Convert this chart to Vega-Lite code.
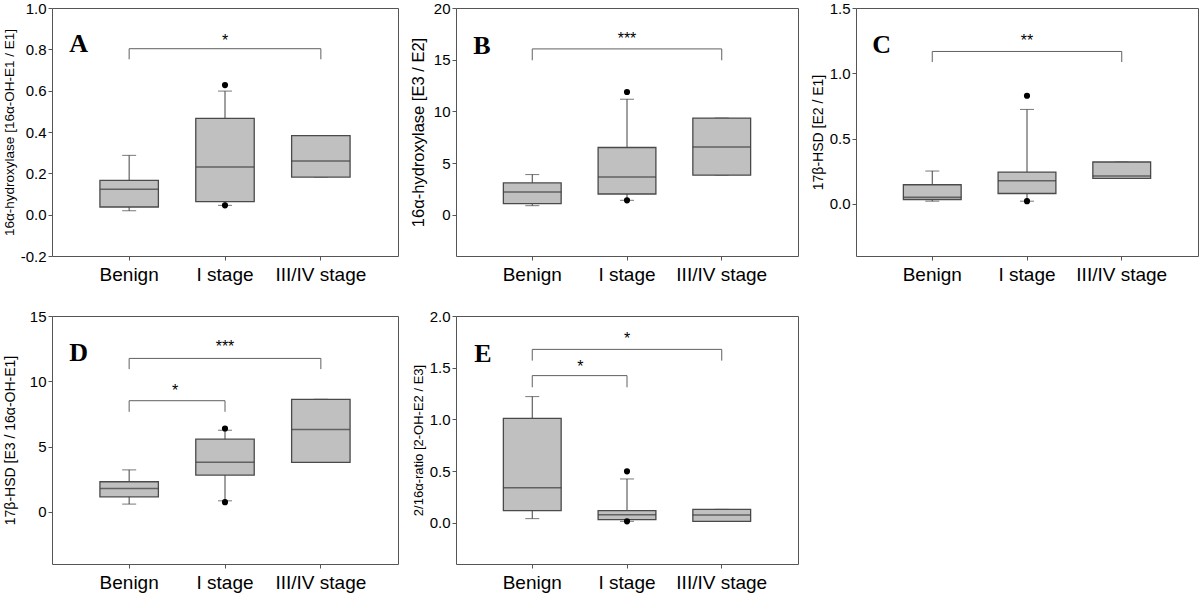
{
  "$schema": "https://vega.github.io/schema/vega-lite/v6.json",
  "background": "white",
  "padding": {"left": 1, "top": 0, "right": 0, "bottom": 0},
  "datasets": {
    "boxes": [
      {"panel": "A", "group": "Benign", "lo": 0.019, "q1": 0.037, "med": 0.123, "q3": 0.166, "hi": 0.287},
      {"panel": "A", "group": "I stage", "lo": 0.045, "q1": 0.063, "med": 0.231, "q3": 0.466, "hi": 0.598},
      {"panel": "A", "group": "III/IV stage", "lo": 0.182, "q1": 0.182, "med": 0.26, "q3": 0.382, "hi": 0.382},
      {"panel": "B", "group": "Benign", "lo": 0.87, "q1": 1.07, "med": 2.19, "q3": 3.07, "hi": 3.88},
      {"panel": "B", "group": "I stage", "lo": 1.39, "q1": 2.0, "med": 3.65, "q3": 6.5, "hi": 11.17},
      {"panel": "B", "group": "III/IV stage", "lo": 3.82, "q1": 3.82, "med": 6.56, "q3": 9.35, "hi": 9.35},
      {"panel": "C", "group": "Benign", "lo": 0.02, "q1": 0.033, "med": 0.051, "q3": 0.146, "hi": 0.251},
      {"panel": "C", "group": "I stage", "lo": 0.02, "q1": 0.079, "med": 0.177, "q3": 0.243, "hi": 0.723},
      {"panel": "C", "group": "III/IV stage", "lo": 0.195, "q1": 0.195, "med": 0.212, "q3": 0.32, "hi": 0.32},
      {"panel": "D", "group": "Benign", "lo": 0.59, "q1": 1.15, "med": 1.79, "q3": 2.3, "hi": 3.21},
      {"panel": "D", "group": "I stage", "lo": 0.84, "q1": 2.81, "med": 3.8, "q3": 5.56, "hi": 6.25},
      {"panel": "D", "group": "III/IV stage", "lo": 3.78, "q1": 3.78, "med": 6.3, "q3": 8.62, "hi": 8.62},
      {"panel": "E", "group": "Benign", "lo": 0.039, "q1": 0.116, "med": 0.339, "q3": 1.01, "hi": 1.22},
      {"panel": "E", "group": "I stage", "lo": 0.013, "q1": 0.029, "med": 0.077, "q3": 0.116, "hi": 0.423},
      {"panel": "E", "group": "III/IV stage", "lo": 0.013, "q1": 0.013, "med": 0.074, "q3": 0.129, "hi": 0.129}
    ],
    "outliers": [
      {"panel": "A", "group": "I stage", "value": 0.627},
      {"panel": "A", "group": "I stage", "value": 0.045},
      {"panel": "B", "group": "I stage", "value": 11.87},
      {"panel": "B", "group": "I stage", "value": 1.39},
      {"panel": "C", "group": "I stage", "value": 0.828},
      {"panel": "C", "group": "I stage", "value": 0.02},
      {"panel": "D", "group": "I stage", "value": 6.38},
      {"panel": "D", "group": "I stage", "value": 0.74},
      {"panel": "E", "group": "I stage", "value": 0.497},
      {"panel": "E", "group": "I stage", "value": 0.013}
    ],
    "brackets": [
      {"panel": "A", "from": "Benign", "to": "III/IV stage", "y": 0.803, "leg": 0.752},
      {"panel": "B", "from": "Benign", "to": "III/IV stage", "y": 16.04, "leg": 14.94},
      {"panel": "C", "from": "Benign", "to": "III/IV stage", "y": 1.167, "leg": 1.086},
      {"panel": "D", "from": "Benign", "to": "III/IV stage", "y": 11.75, "leg": 10.93},
      {"panel": "D", "from": "Benign", "to": "I stage", "y": 8.51, "leg": 7.66},
      {"panel": "E", "from": "Benign", "to": "III/IV stage", "y": 1.677, "leg": 1.568},
      {"panel": "E", "from": "Benign", "to": "I stage", "y": 1.423, "leg": 1.31}
    ],
    "stars": [
      {"panel": "A", "at": "I stage", "pos": "center", "y": 0.859, "label": "*"},
      {"panel": "B", "at": "I stage", "pos": "center", "y": 17.36, "label": "***"},
      {"panel": "C", "at": "I stage", "pos": "center", "y": 1.277, "label": "**"},
      {"panel": "D", "at": "I stage", "pos": "center", "y": 12.9, "label": "***"},
      {"panel": "D", "at": "Benign", "pos": "mid", "y": 9.53, "label": "*"},
      {"panel": "E", "at": "I stage", "pos": "center", "y": 1.817, "label": "*"},
      {"panel": "E", "at": "Benign", "pos": "mid", "y": 1.542, "label": "*"}
    ],
    "letters": [
      {"panel": "A", "at": "Benign", "y": 0.826, "letter": "A"},
      {"panel": "B", "at": "Benign", "y": 16.3, "letter": "B"},
      {"panel": "C", "at": "Benign", "y": 1.217, "letter": "C"},
      {"panel": "D", "at": "Benign", "y": 12.15, "letter": "D"},
      {"panel": "E", "at": "Benign", "y": 1.635, "letter": "E"}
    ]
  },
  "bounds": "flush",
  "spacing": {"row": 60, "column": 58},
  "columns": 3,
  "concat": [
    {
      "width": 346, "height": 248,
      "layer": [
        {"data": {"name": "boxes"}, "transform": [{"filter": "datum.panel === 'A'"}],
         "mark": {"type": "rule", "color": "#404040", "strokeWidth": 1},
         "encoding": {
           "x": {"field": "group", "type": "nominal", "scale": {"type": "band", "paddingInner": 0.39, "paddingOuter": 0.5}, "axis": {"title": null}},
           "y": {"field": "lo", "type": "quantitative", "scale": {"domain": [-0.2, 1.0], "nice": false, "zero": false}, "axis": {"title": "16α-hydroxylase [16α-OH-E1 / E1]", "titleFontSize": 13.5, "titleX": -43, "values": [-0.2, 0, 0.2, 0.4, 0.6, 0.8, 1.0], "labelExpr": "replace(format(datum.value, '.1f'), '−', '-')"}},
           "y2": {"field": "hi"}}},
        {"data": {"name": "boxes"}, "transform": [{"filter": "datum.panel === 'A'"}],
         "mark": {"type": "tick", "color": "#404040", "size": 14, "thickness": 1},
         "encoding": {"x": {"field": "group", "type": "nominal"}, "y": {"field": "lo", "type": "quantitative"}}},
        {"data": {"name": "boxes"}, "transform": [{"filter": "datum.panel === 'A'"}],
         "mark": {"type": "tick", "color": "#404040", "size": 14, "thickness": 1},
         "encoding": {"x": {"field": "group", "type": "nominal"}, "y": {"field": "hi", "type": "quantitative"}}},
        {"data": {"name": "boxes"}, "transform": [{"filter": "datum.panel === 'A'"}],
         "mark": {"type": "bar", "fill": "#c0c0c0", "stroke": "#4a4a4a", "strokeWidth": 1.3},
         "encoding": {"x": {"field": "group", "type": "nominal"}, "y": {"field": "q1", "type": "quantitative"}, "y2": {"field": "q3"}}},
        {"data": {"name": "boxes"}, "transform": [{"filter": "datum.panel === 'A'"}],
         "mark": {"type": "tick", "color": "#3a3a3a", "size": 58, "thickness": 1.5},
         "encoding": {"x": {"field": "group", "type": "nominal"}, "y": {"field": "med", "type": "quantitative"}}},
        {"data": {"name": "outliers"}, "transform": [{"filter": "datum.panel === 'A'"}],
         "mark": {"type": "point", "filled": true, "color": "black", "size": 38, "opacity": 1},
         "encoding": {"x": {"field": "group", "type": "nominal"}, "y": {"field": "value", "type": "quantitative"}}},
        {"data": {"name": "brackets"}, "transform": [{"filter": "datum.panel === 'A'"}],
         "mark": {"type": "rule", "color": "#606060", "strokeWidth": 1},
         "encoding": {"x": {"field": "from", "type": "nominal"}, "x2": {"field": "to"}, "y": {"field": "y", "type": "quantitative"}}},
        {"data": {"name": "brackets"}, "transform": [{"filter": "datum.panel === 'A'"}],
         "mark": {"type": "rule", "color": "#606060", "strokeWidth": 1},
         "encoding": {"x": {"field": "from", "type": "nominal"}, "y": {"field": "y", "type": "quantitative"}, "y2": {"field": "leg"}}},
        {"data": {"name": "brackets"}, "transform": [{"filter": "datum.panel === 'A'"}],
         "mark": {"type": "rule", "color": "#606060", "strokeWidth": 1},
         "encoding": {"x": {"field": "to", "type": "nominal"}, "y": {"field": "y", "type": "quantitative"}, "y2": {"field": "leg"}}},
        {"data": {"name": "stars"}, "transform": [{"filter": "datum.panel === 'A' && datum.pos === 'center'"}],
         "mark": {"type": "text", "fontSize": 16, "color": "black", "font": "Liberation Sans", "dy": 4},
         "encoding": {"x": {"field": "at", "type": "nominal"}, "y": {"field": "y", "type": "quantitative"}, "text": {"field": "label"}}},
        {"data": {"name": "letters"}, "transform": [{"filter": "datum.panel === 'A'"}],
         "mark": {"type": "text", "fontSize": 26, "fontWeight": "bold", "font": "Liberation Serif", "color": "black", "align": "left", "baseline": "middle", "dx": -60},
         "encoding": {"x": {"field": "at", "type": "nominal"}, "y": {"field": "y", "type": "quantitative"}, "text": {"field": "letter"}}}
      ]
    },
    {
      "width": 342, "height": 248,
      "layer": [
        {"data": {"name": "boxes"}, "transform": [{"filter": "datum.panel === 'B'"}],
         "mark": {"type": "rule", "color": "#404040", "strokeWidth": 1},
         "encoding": {
           "x": {"field": "group", "type": "nominal", "scale": {"type": "band", "paddingInner": 0.39, "paddingOuter": 0.5}, "axis": {"title": null}},
           "y": {"field": "lo", "type": "quantitative", "scale": {"domain": [-4, 20], "nice": false, "zero": false}, "axis": {"title": "16α-hydroxylase [E3 / E2]", "titleFontSize": 16.5, "titleX": -37.5, "values": [0, 5, 10, 15, 20], "format": "d"}},
           "y2": {"field": "hi"}}},
        {"data": {"name": "boxes"}, "transform": [{"filter": "datum.panel === 'B'"}],
         "mark": {"type": "tick", "color": "#404040", "size": 14, "thickness": 1},
         "encoding": {"x": {"field": "group", "type": "nominal"}, "y": {"field": "lo", "type": "quantitative"}}},
        {"data": {"name": "boxes"}, "transform": [{"filter": "datum.panel === 'B'"}],
         "mark": {"type": "tick", "color": "#404040", "size": 14, "thickness": 1},
         "encoding": {"x": {"field": "group", "type": "nominal"}, "y": {"field": "hi", "type": "quantitative"}}},
        {"data": {"name": "boxes"}, "transform": [{"filter": "datum.panel === 'B'"}],
         "mark": {"type": "bar", "fill": "#c0c0c0", "stroke": "#4a4a4a", "strokeWidth": 1.3},
         "encoding": {"x": {"field": "group", "type": "nominal"}, "y": {"field": "q1", "type": "quantitative"}, "y2": {"field": "q3"}}},
        {"data": {"name": "boxes"}, "transform": [{"filter": "datum.panel === 'B'"}],
         "mark": {"type": "tick", "color": "#3a3a3a", "size": 58, "thickness": 1.5},
         "encoding": {"x": {"field": "group", "type": "nominal"}, "y": {"field": "med", "type": "quantitative"}}},
        {"data": {"name": "outliers"}, "transform": [{"filter": "datum.panel === 'B'"}],
         "mark": {"type": "point", "filled": true, "color": "black", "size": 38, "opacity": 1},
         "encoding": {"x": {"field": "group", "type": "nominal"}, "y": {"field": "value", "type": "quantitative"}}},
        {"data": {"name": "brackets"}, "transform": [{"filter": "datum.panel === 'B'"}],
         "mark": {"type": "rule", "color": "#606060", "strokeWidth": 1},
         "encoding": {"x": {"field": "from", "type": "nominal"}, "x2": {"field": "to"}, "y": {"field": "y", "type": "quantitative"}}},
        {"data": {"name": "brackets"}, "transform": [{"filter": "datum.panel === 'B'"}],
         "mark": {"type": "rule", "color": "#606060", "strokeWidth": 1},
         "encoding": {"x": {"field": "from", "type": "nominal"}, "y": {"field": "y", "type": "quantitative"}, "y2": {"field": "leg"}}},
        {"data": {"name": "brackets"}, "transform": [{"filter": "datum.panel === 'B'"}],
         "mark": {"type": "rule", "color": "#606060", "strokeWidth": 1},
         "encoding": {"x": {"field": "to", "type": "nominal"}, "y": {"field": "y", "type": "quantitative"}, "y2": {"field": "leg"}}},
        {"data": {"name": "stars"}, "transform": [{"filter": "datum.panel === 'B' && datum.pos === 'center'"}],
         "mark": {"type": "text", "fontSize": 16, "color": "black", "font": "Liberation Sans", "dy": 4},
         "encoding": {"x": {"field": "at", "type": "nominal"}, "y": {"field": "y", "type": "quantitative"}, "text": {"field": "label"}}},
        {"data": {"name": "letters"}, "transform": [{"filter": "datum.panel === 'B'"}],
         "mark": {"type": "text", "fontSize": 26, "fontWeight": "bold", "font": "Liberation Serif", "color": "black", "align": "left", "baseline": "middle", "dx": -59},
         "encoding": {"x": {"field": "at", "type": "nominal"}, "y": {"field": "y", "type": "quantitative"}, "text": {"field": "letter"}}}
      ]
    },
    {
      "width": 342, "height": 248,
      "layer": [
        {"data": {"name": "boxes"}, "transform": [{"filter": "datum.panel === 'C'"}],
         "mark": {"type": "rule", "color": "#404040", "strokeWidth": 1},
         "encoding": {
           "x": {"field": "group", "type": "nominal", "scale": {"type": "band", "paddingInner": 0.39, "paddingOuter": 0.5}, "axis": {"title": null}},
           "y": {"field": "lo", "type": "quantitative", "scale": {"domain": [-0.4, 1.5], "nice": false, "zero": false}, "axis": {"title": "17β-HSD [E2 / E1]", "titleFontSize": 14, "titleX": -37.5, "values": [0, 0.5, 1.0, 1.5], "format": ".1f"}},
           "y2": {"field": "hi"}}},
        {"data": {"name": "boxes"}, "transform": [{"filter": "datum.panel === 'C'"}],
         "mark": {"type": "tick", "color": "#404040", "size": 14, "thickness": 1},
         "encoding": {"x": {"field": "group", "type": "nominal"}, "y": {"field": "lo", "type": "quantitative"}}},
        {"data": {"name": "boxes"}, "transform": [{"filter": "datum.panel === 'C'"}],
         "mark": {"type": "tick", "color": "#404040", "size": 14, "thickness": 1},
         "encoding": {"x": {"field": "group", "type": "nominal"}, "y": {"field": "hi", "type": "quantitative"}}},
        {"data": {"name": "boxes"}, "transform": [{"filter": "datum.panel === 'C'"}],
         "mark": {"type": "bar", "fill": "#c0c0c0", "stroke": "#4a4a4a", "strokeWidth": 1.3},
         "encoding": {"x": {"field": "group", "type": "nominal"}, "y": {"field": "q1", "type": "quantitative"}, "y2": {"field": "q3"}}},
        {"data": {"name": "boxes"}, "transform": [{"filter": "datum.panel === 'C'"}],
         "mark": {"type": "tick", "color": "#3a3a3a", "size": 58, "thickness": 1.5},
         "encoding": {"x": {"field": "group", "type": "nominal"}, "y": {"field": "med", "type": "quantitative"}}},
        {"data": {"name": "outliers"}, "transform": [{"filter": "datum.panel === 'C'"}],
         "mark": {"type": "point", "filled": true, "color": "black", "size": 38, "opacity": 1},
         "encoding": {"x": {"field": "group", "type": "nominal"}, "y": {"field": "value", "type": "quantitative"}}},
        {"data": {"name": "brackets"}, "transform": [{"filter": "datum.panel === 'C'"}],
         "mark": {"type": "rule", "color": "#606060", "strokeWidth": 1},
         "encoding": {"x": {"field": "from", "type": "nominal"}, "x2": {"field": "to"}, "y": {"field": "y", "type": "quantitative"}}},
        {"data": {"name": "brackets"}, "transform": [{"filter": "datum.panel === 'C'"}],
         "mark": {"type": "rule", "color": "#606060", "strokeWidth": 1},
         "encoding": {"x": {"field": "from", "type": "nominal"}, "y": {"field": "y", "type": "quantitative"}, "y2": {"field": "leg"}}},
        {"data": {"name": "brackets"}, "transform": [{"filter": "datum.panel === 'C'"}],
         "mark": {"type": "rule", "color": "#606060", "strokeWidth": 1},
         "encoding": {"x": {"field": "to", "type": "nominal"}, "y": {"field": "y", "type": "quantitative"}, "y2": {"field": "leg"}}},
        {"data": {"name": "stars"}, "transform": [{"filter": "datum.panel === 'C' && datum.pos === 'center'"}],
         "mark": {"type": "text", "fontSize": 16, "color": "black", "font": "Liberation Sans", "dy": 4},
         "encoding": {"x": {"field": "at", "type": "nominal"}, "y": {"field": "y", "type": "quantitative"}, "text": {"field": "label"}}},
        {"data": {"name": "letters"}, "transform": [{"filter": "datum.panel === 'C'"}],
         "mark": {"type": "text", "fontSize": 26, "fontWeight": "bold", "font": "Liberation Serif", "color": "black", "align": "left", "baseline": "middle", "dx": -60},
         "encoding": {"x": {"field": "at", "type": "nominal"}, "y": {"field": "y", "type": "quantitative"}, "text": {"field": "letter"}}}
      ]
    },
    {
      "width": 346, "height": 248,
      "layer": [
        {"data": {"name": "boxes"}, "transform": [{"filter": "datum.panel === 'D'"}],
         "mark": {"type": "rule", "color": "#404040", "strokeWidth": 1},
         "encoding": {
           "x": {"field": "group", "type": "nominal", "scale": {"type": "band", "paddingInner": 0.39, "paddingOuter": 0.5}, "axis": {"title": null}},
           "y": {"field": "lo", "type": "quantitative", "scale": {"domain": [-4, 15], "nice": false, "zero": false}, "axis": {"title": "17β-HSD [E3 / 16α-OH-E1]", "titleFontSize": 14, "titleX": -42, "values": [0, 5, 10, 15], "format": "d"}},
           "y2": {"field": "hi"}}},
        {"data": {"name": "boxes"}, "transform": [{"filter": "datum.panel === 'D'"}],
         "mark": {"type": "tick", "color": "#404040", "size": 14, "thickness": 1},
         "encoding": {"x": {"field": "group", "type": "nominal"}, "y": {"field": "lo", "type": "quantitative"}}},
        {"data": {"name": "boxes"}, "transform": [{"filter": "datum.panel === 'D'"}],
         "mark": {"type": "tick", "color": "#404040", "size": 14, "thickness": 1},
         "encoding": {"x": {"field": "group", "type": "nominal"}, "y": {"field": "hi", "type": "quantitative"}}},
        {"data": {"name": "boxes"}, "transform": [{"filter": "datum.panel === 'D'"}],
         "mark": {"type": "bar", "fill": "#c0c0c0", "stroke": "#4a4a4a", "strokeWidth": 1.3},
         "encoding": {"x": {"field": "group", "type": "nominal"}, "y": {"field": "q1", "type": "quantitative"}, "y2": {"field": "q3"}}},
        {"data": {"name": "boxes"}, "transform": [{"filter": "datum.panel === 'D'"}],
         "mark": {"type": "tick", "color": "#3a3a3a", "size": 58, "thickness": 1.5},
         "encoding": {"x": {"field": "group", "type": "nominal"}, "y": {"field": "med", "type": "quantitative"}}},
        {"data": {"name": "outliers"}, "transform": [{"filter": "datum.panel === 'D'"}],
         "mark": {"type": "point", "filled": true, "color": "black", "size": 38, "opacity": 1},
         "encoding": {"x": {"field": "group", "type": "nominal"}, "y": {"field": "value", "type": "quantitative"}}},
        {"data": {"name": "brackets"}, "transform": [{"filter": "datum.panel === 'D'"}],
         "mark": {"type": "rule", "color": "#606060", "strokeWidth": 1},
         "encoding": {"x": {"field": "from", "type": "nominal"}, "x2": {"field": "to"}, "y": {"field": "y", "type": "quantitative"}}},
        {"data": {"name": "brackets"}, "transform": [{"filter": "datum.panel === 'D'"}],
         "mark": {"type": "rule", "color": "#606060", "strokeWidth": 1},
         "encoding": {"x": {"field": "from", "type": "nominal"}, "y": {"field": "y", "type": "quantitative"}, "y2": {"field": "leg"}}},
        {"data": {"name": "brackets"}, "transform": [{"filter": "datum.panel === 'D'"}],
         "mark": {"type": "rule", "color": "#606060", "strokeWidth": 1},
         "encoding": {"x": {"field": "to", "type": "nominal"}, "y": {"field": "y", "type": "quantitative"}, "y2": {"field": "leg"}}},
        {"data": {"name": "stars"}, "transform": [{"filter": "datum.panel === 'D' && datum.pos === 'center'"}],
         "mark": {"type": "text", "fontSize": 16, "color": "black", "font": "Liberation Sans", "dy": 4},
         "encoding": {"x": {"field": "at", "type": "nominal"}, "y": {"field": "y", "type": "quantitative"}, "text": {"field": "label"}}},
        {"data": {"name": "stars"}, "transform": [{"filter": "datum.panel === 'D' && datum.pos === 'mid'"}],
         "mark": {"type": "text", "fontSize": 16, "color": "black", "font": "Liberation Sans", "dy": 4, "dx": 46},
         "encoding": {"x": {"field": "at", "type": "nominal"}, "y": {"field": "y", "type": "quantitative"}, "text": {"field": "label"}}},
        {"data": {"name": "letters"}, "transform": [{"filter": "datum.panel === 'D'"}],
         "mark": {"type": "text", "fontSize": 26, "fontWeight": "bold", "font": "Liberation Serif", "color": "black", "align": "left", "baseline": "middle", "dx": -60},
         "encoding": {"x": {"field": "at", "type": "nominal"}, "y": {"field": "y", "type": "quantitative"}, "text": {"field": "letter"}}}
      ]
    },
    {
      "width": 342, "height": 248,
      "layer": [
        {"data": {"name": "boxes"}, "transform": [{"filter": "datum.panel === 'E'"}],
         "mark": {"type": "rule", "color": "#404040", "strokeWidth": 1},
         "encoding": {
           "x": {"field": "group", "type": "nominal", "scale": {"type": "band", "paddingInner": 0.39, "paddingOuter": 0.5}, "axis": {"title": null}},
           "y": {"field": "lo", "type": "quantitative", "scale": {"domain": [-0.4, 2.0], "nice": false, "zero": false}, "axis": {"title": "2/16α-ratio [2-OH-E2 / E3]", "titleFontSize": 13, "titleX": -37.5, "values": [0, 0.5, 1.0, 1.5, 2.0], "format": ".1f"}},
           "y2": {"field": "hi"}}},
        {"data": {"name": "boxes"}, "transform": [{"filter": "datum.panel === 'E'"}],
         "mark": {"type": "tick", "color": "#404040", "size": 14, "thickness": 1},
         "encoding": {"x": {"field": "group", "type": "nominal"}, "y": {"field": "lo", "type": "quantitative"}}},
        {"data": {"name": "boxes"}, "transform": [{"filter": "datum.panel === 'E'"}],
         "mark": {"type": "tick", "color": "#404040", "size": 14, "thickness": 1},
         "encoding": {"x": {"field": "group", "type": "nominal"}, "y": {"field": "hi", "type": "quantitative"}}},
        {"data": {"name": "boxes"}, "transform": [{"filter": "datum.panel === 'E'"}],
         "mark": {"type": "bar", "fill": "#c0c0c0", "stroke": "#4a4a4a", "strokeWidth": 1.3},
         "encoding": {"x": {"field": "group", "type": "nominal"}, "y": {"field": "q1", "type": "quantitative"}, "y2": {"field": "q3"}}},
        {"data": {"name": "boxes"}, "transform": [{"filter": "datum.panel === 'E'"}],
         "mark": {"type": "tick", "color": "#3a3a3a", "size": 58, "thickness": 1.5},
         "encoding": {"x": {"field": "group", "type": "nominal"}, "y": {"field": "med", "type": "quantitative"}}},
        {"data": {"name": "outliers"}, "transform": [{"filter": "datum.panel === 'E'"}],
         "mark": {"type": "point", "filled": true, "color": "black", "size": 38, "opacity": 1},
         "encoding": {"x": {"field": "group", "type": "nominal"}, "y": {"field": "value", "type": "quantitative"}}},
        {"data": {"name": "brackets"}, "transform": [{"filter": "datum.panel === 'E'"}],
         "mark": {"type": "rule", "color": "#606060", "strokeWidth": 1},
         "encoding": {"x": {"field": "from", "type": "nominal"}, "x2": {"field": "to"}, "y": {"field": "y", "type": "quantitative"}}},
        {"data": {"name": "brackets"}, "transform": [{"filter": "datum.panel === 'E'"}],
         "mark": {"type": "rule", "color": "#606060", "strokeWidth": 1},
         "encoding": {"x": {"field": "from", "type": "nominal"}, "y": {"field": "y", "type": "quantitative"}, "y2": {"field": "leg"}}},
        {"data": {"name": "brackets"}, "transform": [{"filter": "datum.panel === 'E'"}],
         "mark": {"type": "rule", "color": "#606060", "strokeWidth": 1},
         "encoding": {"x": {"field": "to", "type": "nominal"}, "y": {"field": "y", "type": "quantitative"}, "y2": {"field": "leg"}}},
        {"data": {"name": "stars"}, "transform": [{"filter": "datum.panel === 'E' && datum.pos === 'center'"}],
         "mark": {"type": "text", "fontSize": 16, "color": "black", "font": "Liberation Sans", "dy": 4},
         "encoding": {"x": {"field": "at", "type": "nominal"}, "y": {"field": "y", "type": "quantitative"}, "text": {"field": "label"}}},
        {"data": {"name": "stars"}, "transform": [{"filter": "datum.panel === 'E' && datum.pos === 'mid'"}],
         "mark": {"type": "text", "fontSize": 16, "color": "black", "font": "Liberation Sans", "dy": 4, "dx": 48},
         "encoding": {"x": {"field": "at", "type": "nominal"}, "y": {"field": "y", "type": "quantitative"}, "text": {"field": "label"}}},
        {"data": {"name": "letters"}, "transform": [{"filter": "datum.panel === 'E'"}],
         "mark": {"type": "text", "fontSize": 26, "fontWeight": "bold", "font": "Liberation Serif", "color": "black", "align": "left", "baseline": "middle", "dx": -58},
         "encoding": {"x": {"field": "at", "type": "nominal"}, "y": {"field": "y", "type": "quantitative"}, "text": {"field": "letter"}}}
      ]
    }
  ],
  "config": {
    "view": {"stroke": "#555555", "strokeWidth": 1},
    "font": "Liberation Sans",
    "axis": {"domain": false, "grid": false, "tickColor": "#555555", "tickSize": 4, "labelFont": "Liberation Sans", "titleFont": "Liberation Sans", "labelColor": "#000000", "titleColor": "#000000", "titleFontWeight": "normal"},
    "axisX": {"labelFontSize": 19, "labelAngle": 0, "labelPadding": 5},
    "axisY": {"labelFontSize": 15, "labelPadding": 2, "titleBaseline": "middle"}
  }
}
